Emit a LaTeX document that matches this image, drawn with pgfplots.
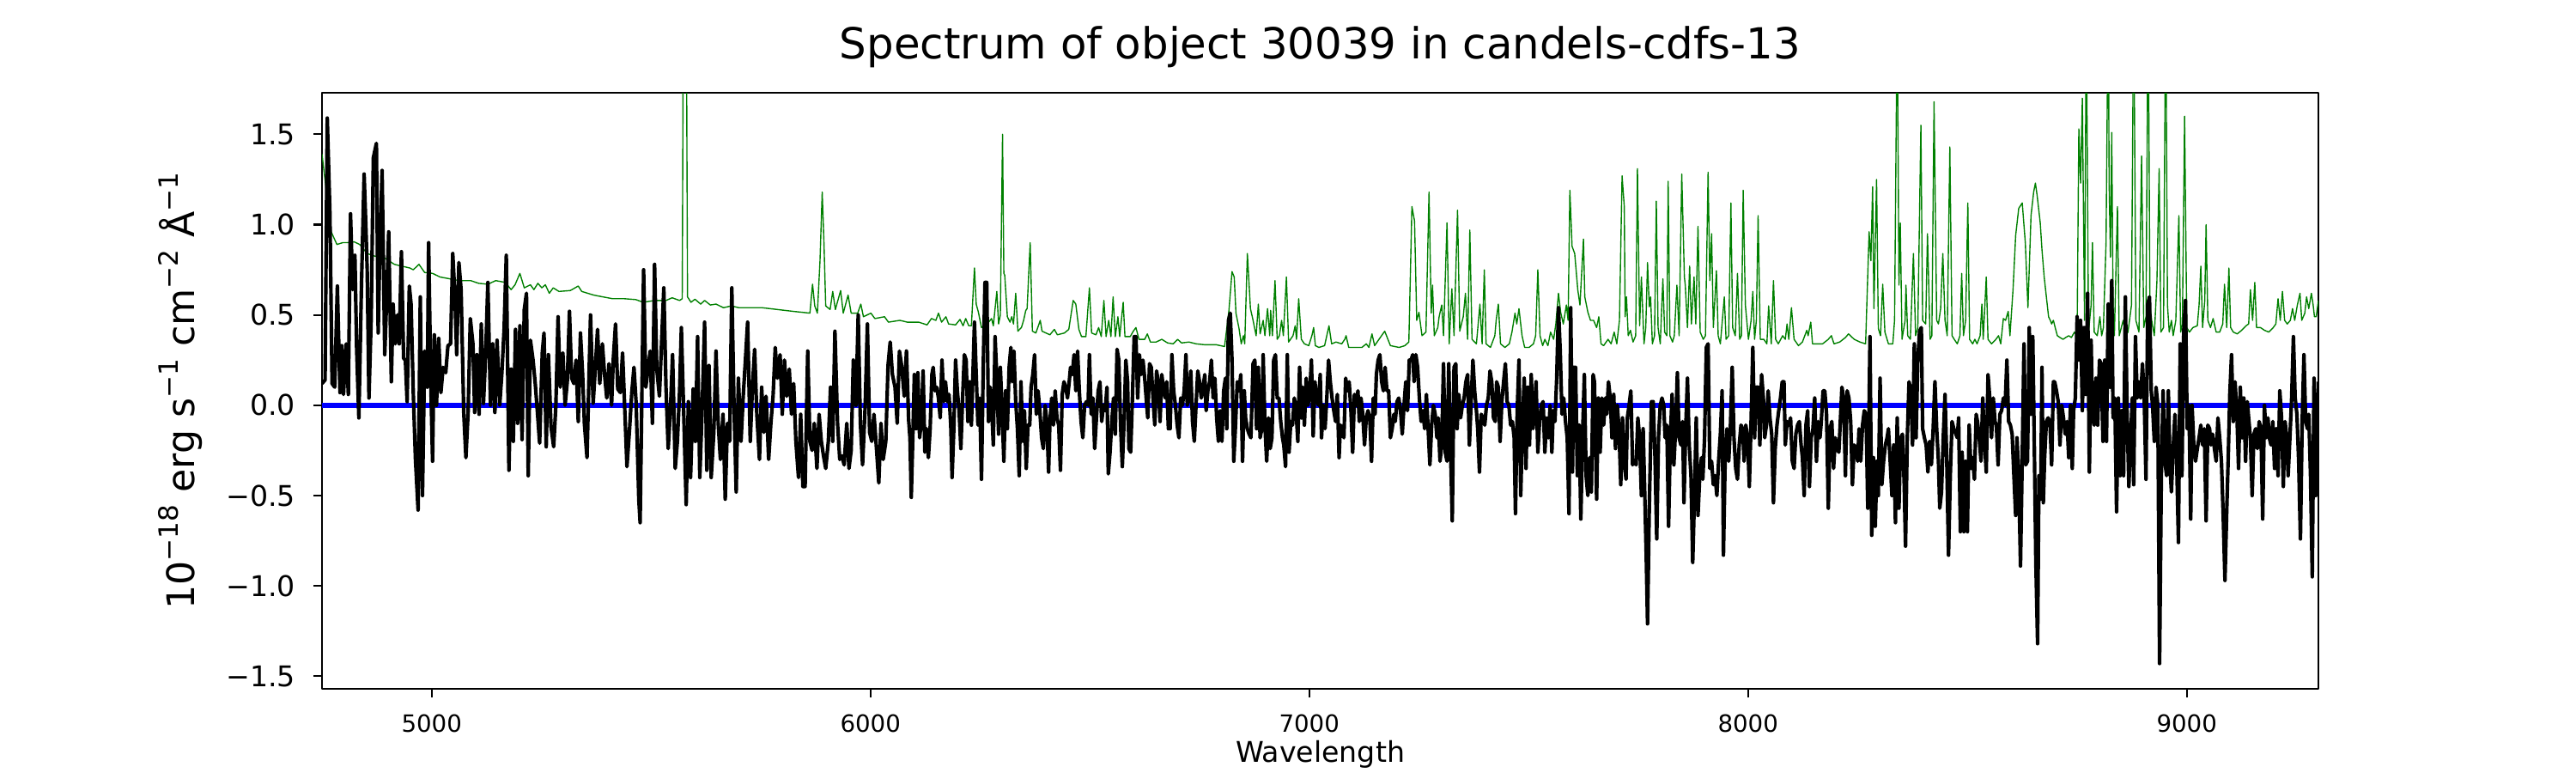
\documentclass[border=0pt]{standalone}
\usepackage{fontspec}
\setmainfont{DejaVu Sans}
\usepackage{pgfplots}
\pgfplotsset{compat=1.18}
\definecolor{mplgreen}{rgb}{0,0.5,0}
\definecolor{mplblue}{rgb}{0,0,1}
\newcommand{\sps}[1]{\raisebox{0.42em}{\fontsize{11.2}{12}\selectfont #1}}
\begin{document}
\begin{tikzpicture}
\path[use as bounding box] (0,0) rectangle (1080bp,324bp);
\begin{axis}[
  at={(135bp,35.28bp)}, anchor=south west,
  width=837bp, height=249.84bp, scale only axis,
  xmin=4750, xmax=9300, ymin=-1.57, ymax=1.73,
  axis line style={line width=0.8bp},
  tick style={line width=0.8bp, black},
  tick align=outside, major tick length=3.5bp,
  xtick pos=left, ytick pos=left,
  xtick={5000,6000,7000,8000,9000},
  xticklabels={5000,6000,7000,8000,9000},
  ytick={-1.5,-1,-0.5,0,0.5,1,1.5},
  yticklabels={−1.5,−1.0,−0.5,0.0,0.5,1.0,1.5},
  xticklabel style={font=\fontsize{10}{12}\selectfont, anchor=base, yshift=-14.5bp},
  yticklabel style={font=\fontsize{12}{14}\selectfont, anchor=east, xshift=-4.2bp},
  title={Spectrum of object 30039 in candels-cdfs-13},
  title style={font=\fontsize{18}{21}\selectfont, at={(axis description cs:0.5,1)}, anchor=base, yshift=8.28bp},
  xlabel={Wavelength},
  xlabel style={font=\fontsize{12}{14}\selectfont, at={(axis description cs:0.5,-0.1225)}, anchor=base},
  ylabel={10\sps{−18} erg s\sps{−1} cm\sps{−2} Å\sps{−1}},
  ylabel style={font=\fontsize{16}{19}\selectfont, at={(axis description cs:-0.0640,0.5)}, anchor=base},
  line join=round,
]
% error / sky spectrum
\addplot[mplgreen, line width=0.5bp] coordinates {
(4750,1.39) (4771,0.96) (4784,0.89) (4797,0.90) (4810,0.90) (4823,0.905) (4836,0.89) (4853,0.84) (4871,0.825) (4893,0.815) (4915,0.78) (4932,0.77) (4950,0.76) (4958,0.75) (4971,0.78) (4984,0.735) (5002,0.73) (5019,0.71) (5041,0.70) (5063,0.69) (5089,0.69) (5107,0.675) (5128,0.67) (5146,0.69) (5168,0.68) (5181,0.64) (5190,0.667) (5201,0.73) (5211,0.65) (5225,0.667) (5233,0.64) (5242,0.675) (5251,0.65) (5259,0.667) (5268,0.62) (5277,0.65) (5290,0.63) (5316,0.635) (5334,0.66) (5342,0.63) (5369,0.61) (5390,0.60) (5412,0.59) (5438,0.59) (5465,0.585) (5482,0.57) (5508,0.58) (5534,0.58) (5548,0.595) (5565,0.58) (5571,0.59) (5574,2.5) (5577,3.2) (5580,2.5) (5583,0.60) (5591,0.57) (5600,0.587) (5613,0.56) (5622,0.58) (5635,0.555) (5648,0.56) (5665,0.54) (5683,0.55) (5700,0.54) (5726,0.54) (5753,0.54) (5788,0.53) (5823,0.52) (5862,0.51) (5868,0.67) (5873,0.55) (5879,0.51) (5885,0.80) (5890,1.18) (5894,0.90) (5898,0.55) (5908,0.53) (5914,0.63) (5920,0.53) (5932,0.635) (5938,0.51) (5949,0.61) (5956,0.51) (5971,0.51) (5978,0.56) (5984,0.49) (6001,0.51) (6010,0.48) (6032,0.49) (6041,0.46) (6067,0.47) (6084,0.46)
(6090,0.46) (6110,0.46) (6129,0.445) (6139,0.48) (6149,0.47) (6155,0.51) (6162,0.46) (6172,0.49) (6178,0.45) (6194,0.445) (6204,0.475) (6211,0.44) (6217,0.48) (6224,0.44) (6230,0.44) (6237,0.76) (6241,0.56) (6246,0.515) (6253,0.43) (6266,0.45) (6276,0.48) (6280,0.44) (6288,0.63) (6292,0.45) (6296,0.50) (6301,1.50) (6304,0.73) (6306,0.72) (6312,0.49) (6318,0.46) (6322,0.49) (6326,0.45) (6331,0.62) (6336,0.41) (6344,0.43) (6349,0.47) (6354,0.525) (6357,0.535) (6364,0.90) (6369,0.41) (6377,0.40) (6387,0.47) (6391,0.41) (6400,0.40) (6409,0.39) (6419,0.42) (6426,0.39) (6442,0.40) (6452,0.42) (6462,0.58) (6468,0.56) (6475,0.42) (6481,0.38) (6491,0.38) (6499,0.65) (6504,0.40) (6514,0.39) (6520,0.43) (6526,0.38) (6532,0.58) (6537,0.38) (6543,0.47) (6548,0.38) (6553,0.60) (6558,0.38) (6564,0.49) (6568,0.38) (6576,0.57) (6580,0.38) (6592,0.38) (6599,0.41) (6605,0.43) (6612,0.365) (6625,0.365) (6631,0.395) (6638,0.35) (6651,0.35) (6664,0.365) (6677,0.345) (6690,0.34) (6700,0.365) (6709,0.345) (6726,0.35) (6742,0.34) (6762,0.335) (6788,0.335) (6807,0.325) (6817,0.525) (6824,0.74) (6829,0.71) (6833,0.51) (6840,0.425) (6845,0.34) (6850,0.385) (6853,0.34) (6859,0.84) (6866,0.535)
(6872,0.47) (6879,0.385) (6884,0.56) (6888,0.395) (6895,0.47) (6899,0.385) (6905,0.535) (6910,0.385) (6912,0.525) (6916,0.385) (6922,0.69) (6927,0.365) (6932,0.385) (6937,0.47) (6941,0.385) (6948,0.71) (6953,0.35) (6963,0.385) (6968,0.44) (6971,0.365) (6976,0.59) (6982,0.365) (6989,0.34) (6999,0.33) (7006,0.385) (7010,0.43) (7014,0.33) (7022,0.32) (7035,0.33) (7045,0.44) (7051,0.34) (7061,0.35) (7074,0.34) (7081,0.365) (7084,0.385) (7090,0.32) (7107,0.32) (7120,0.32) (7130,0.34) (7136,0.32) (7143,0.395) (7149,0.33) (7159,0.365) (7172,0.41) (7185,0.33) (7205,0.32) (7218,0.33) (7227,0.35) (7234,1.10) (7240,1.02) (7245,0.47) (7250,0.515) (7257,0.385) (7266,0.405) (7273,1.18) (7278,0.51) (7281,0.665) (7285,0.385) (7293,0.43) (7296,0.49) (7302,0.555) (7306,0.385) (7314,1.01) (7319,0.34) (7325,0.645) (7330,0.385) (7338,1.08) (7343,0.41) (7351,0.49) (7356,0.62) (7361,0.365) (7366,0.97) (7371,0.365) (7381,0.34) (7389,0.56) (7394,0.34) (7399,0.75) (7403,0.34) (7413,0.32) (7423,0.385) (7426,0.47) (7431,0.56) (7436,0.34) (7446,0.32) (7456,0.34) (7462,0.405) (7469,0.51) (7473,0.45) (7478,0.535) (7485,0.385) (7491,0.32) (7501,0.32) (7511,0.34) (7516,0.385) (7521,0.75) (7526,0.385) (7532,0.33) (7537,0.365) (7544,0.33) (7550,0.405) (7557,0.365) (7562,0.45) (7568,0.62) (7573,0.515) (7579,0.45) (7586,0.555) (7590,0.47) (7594,1.19) (7599,0.88) (7605,0.84) (7612,0.64) (7617,0.555) (7625,0.92) (7628,0.60) (7635,0.515) (7641,0.47) (7648,0.47)
(7655,0.43) (7660,0.49) (7665,0.34) (7671,0.33) (7681,0.365) (7688,0.34) (7695,0.405) (7701,0.34) (7707,0.47) (7713,1.27) (7718,1.10) (7720,0.49) (7723,0.60) (7727,0.385) (7732,0.415) (7738,0.35) (7744,0.385) (7748,1.31) (7753,0.44) (7757,0.71) (7763,0.34) (7767,0.43) (7771,0.79) (7775,0.545) (7778,0.60) (7782,0.34) (7787,0.385) (7791,1.13) (7795,0.43) (7800,0.34) (7806,0.70) (7810,0.405) (7815,0.385) (7818,1.24) (7822,0.385) (7828,0.35) (7832,0.385) (7838,0.665) (7843,0.385) (7849,1.28) (7855,0.71) (7857,0.665) (7862,0.43) (7867,0.77) (7871,0.45) (7877,0.71) (7881,0.45) (7886,0.99) (7891,0.405) (7898,0.365) (7903,0.385) (7909,1.29) (7913,0.69) (7917,0.95) (7921,0.43) (7928,0.745) (7932,0.385) (7937,0.34) (7946,0.60) (7950,0.365) (7956,0.385) (7961,1.12) (7965,0.43) (7971,0.385) (7976,0.73) (7981,0.365) (7985,0.385) (7989,1.19) (7994,0.555) (8001,0.365) (8007,0.47) (8011,0.63) (8015,0.365) (8019,0.47) (8023,1.05) (8028,0.365) (8036,0.365) (8043,0.34) (8047,0.55) (8053,0.34) (8058,0.69) (8063,0.365) (8069,0.34) (8079,0.385) (8085,0.365) (8089,0.45) (8093,0.365) (8099,0.54) (8105,0.365) (8115,0.33) (8124,0.35) (8134,0.415) (8137,0.385) (8143,0.46) (8147,0.34) (8157,0.34) (8170,0.34) (8183,0.365) (8190,0.385) (8196,0.34) (8209,0.35) (8222,0.375) (8229,0.395) (8242,0.365) (8255,0.35) (8268,0.34) (8276,0.96) (8280,0.80) (8284,1.21) (8287,0.535) (8293,1.25) (8297,0.425) (8302,0.385) (8307,0.67) (8312,0.405) (8320,0.34) (8330,0.34) (8334,0.47) (8340,2.2) (8344,0.665) (8347,1.01) (8351,0.365) (8358,0.47) (8360,0.665) (8364,0.385) (8370,0.365) (8377,0.84) (8382,0.385) (8387,0.43) (8394,1.55) (8398,0.47) (8405,0.45) (8409,0.95) (8415,0.365) (8419,0.385) (8424,1.68) (8430,0.47) (8434,0.45) (8439,0.535) (8444,0.84) (8449,0.47) (8454,0.385) (8460,1.43) (8465,0.385) (8470,0.365)
(8477,0.34) (8483,0.385) (8487,0.73) (8491,0.385) (8496,0.47) (8501,1.12) (8505,0.365) (8512,0.34) (8517,0.365) (8522,0.34) (8529,0.385) (8533,0.56) (8536,0.365) (8543,0.71) (8547,0.365) (8555,0.34) (8565,0.365) (8571,0.385) (8576,0.34) (8582,0.48) (8587,0.47) (8593,0.52) (8597,0.385) (8604,0.64) (8610,0.94) (8617,1.09) (8625,1.12) (8632,0.90) (8638,0.54) (8645,1.05) (8651,1.18) (8655,1.23) (8659,1.16) (8666,1.01) (8670,0.86) (8675,0.71) (8680,0.60) (8685,0.49) (8689,0.47) (8692,0.45) (8696,0.47) (8699,0.44) (8705,0.385) (8711,0.375) (8718,0.365) (8724,0.375) (8731,0.385) (8737,0.375) (8744,0.405) (8750,0.385) (8754,1.53) (8758,1.23) (8762,1.70) (8767,0.47) (8771,2.2) (8776,0.405) (8782,0.555) (8785,0.90) (8789,0.405) (8796,0.385) (8802,0.49) (8806,0.385) (8810,0.43) (8816,0.90) (8821,2.3) (8823,1.23) (8826,0.82) (8829,1.51) (8832,0.555) (8835,0.385) (8842,1.10) (8846,0.385) (8855,0.47) (8861,0.385) (8866,0.405) (8874,0.555) (8879,2.3) (8884,0.47) (8891,0.405) (8897,1.38) (8902,0.43) (8907,0.49) (8912,2.3) (8916,0.555) (8920,0.47) (8926,0.385) (8932,0.69) (8937,1.31) (8941,0.405) (8947,0.43) (8952,2.3) (8956,0.555) (8960,0.405) (8965,0.47) (8969,0.385) (8975,0.47) (8982,1.05) (8986,0.405) (8990,0.45) (8995,1.60) (9000,0.43) (9006,0.405) (9014,0.43) (9024,0.44) (9028,0.555) (9032,0.77) (9036,0.43) (9041,0.58) (9044,1.00) (9048,0.47) (9054,0.43) (9060,0.48) (9067,0.405) (9075,0.405) (9082,0.45) (9086,0.67) (9091,0.43) (9096,0.76) (9100,0.43) (9106,0.405) (9115,0.395) (9125,0.415) (9135,0.44) (9141,0.45) (9145,0.64) (9150,0.47) (9155,0.68) (9159,0.43) (9168,0.43) (9177,0.415) (9187,0.405) (9197,0.43) (9203,0.45) (9208,0.59) (9213,0.47) (9218,0.63) (9223,0.47) (9229,0.45) (9236,0.47) (9241,0.535) (9246,0.47) (9252,0.555) (9258,0.62) (9262,0.47) (9269,0.51) (9273,0.60) (9278,0.535) (9284,0.62) (9288,0.555) (9291,0.49) (9295,0.49) (9300,0.58)
};
% zero line
\addplot[mplblue, line width=2bp] coordinates {(4750,0) (9300,0)};
% flux
\addplot[black, line width=1.5bp] coordinates {
(4750,0.12) (4757,0.14) (4762,1.59) (4768,1.07) (4773,0.12) (4779,0.10) (4785,0.66) (4791,0.07) (4795,0.33) (4799,0.06) (4805,0.34) (4810,0.06) (4815,1.06) (4820,0.64) (4825,0.83) (4829,0.31) (4834,-0.07) (4840,0.67) (4846,1.28) (4850,0.99) (4853,0.75) (4857,0.04) (4862,0.47) (4867,1.37) (4874,1.45) (4878,0.40) (4882,0.88) (4887,1.30) (4893,0.28) (4897,0.56) (4902,0.96) (4908,0.13) (4912,0.56) (4917,0.34) (4922,0.50) (4926,0.34) (4931,0.85) (4936,0.26) (4940,0.25) (4944,0.02) (4949,0.66) (4953,0.56) (4958,0.07) (4963,-0.30) (4969,-0.58) (4974,0.60) (4979,-0.50) (4984,0.30) (4990,0.10) (4993,0.90) (4998,0.12) (5002,-0.31) (5006,0.39) (5011,0.00) (5016,0.37) (5021,0.07) (5026,0.21) (5032,0.18) (5037,0.33) (5043,0.34) (5048,0.84) (5053,0.60) (5057,0.28) (5062,0.79) (5067,0.64) (5073,-0.04) (5078,-0.29) (5083,-0.04) (5088,0.48) (5094,0.34) (5098,-0.04) (5103,0.28) (5108,-0.05) (5113,0.45) (5118,0.01) (5123,0.28) (5128,0.68) (5134,0.00) (5139,0.34) (5144,-0.04) (5149,0.36) (5155,0.00) (5160,0.18) (5165,0.42) (5170,0.83) (5176,-0.36) (5181,0.20) (5186,-0.20) (5191,0.42) (5196,-0.10) (5201,0.44) (5206,-0.19) (5211,0.53) (5216,0.62) (5220,-0.39) (5225,0.36) (5231,0.25) (5236,0.12) (5241,-0.04) (5246,-0.21) (5252,0.29) (5256,0.40) (5261,-0.23) (5266,0.28) (5272,-0.12) (5278,-0.23) (5283,0.00) (5288,0.49) (5293,0.10) (5299,0.29) (5304,0.00) (5309,0.13) (5314,0.52) (5319,0.15) (5324,0.12) (5329,0.25) (5334,-0.09) (5339,0.40) (5344,0.17) (5348,-0.10) (5354,-0.29) (5359,0.21) (5362,0.50) (5368,0.01) (5373,0.21) (5378,0.42) (5383,0.12) (5389,0.34) (5394,0.17) (5399,0.04) (5404,0.23) (5410,0.00) (5414,0.26) (5419,0.45) (5424,0.09) (5430,0.07) (5435,0.29) (5440,-0.02) (5445,-0.34) (5451,-0.13) (5456,0.07) (5461,0.21) (5466,0.01) (5472,-0.52) (5475,-0.65) (5479,0.05) (5483,0.75) (5488,0.10) (5493,0.20) (5498,0.30) (5503,-0.10) (5508,0.78) (5513,0.20) (5519,0.05) (5524,0.35) (5529,0.65) (5534,0.10) (5539,-0.24) (5544,-0.03) (5549,0.28) (5555,-0.35) (5560,-0.20) (5565,0.08) (5569,0.43) (5575,-0.10) (5580,-0.55) (5585,0.02) (5590,-0.40) (5596,0.09) (5601,-0.20) (5606,0.38) (5611,-0.40) (5616,-0.05) (5622,0.46) (5627,-0.36) (5632,0.22) (5637,-0.40) (5643,-0.15) (5648,0.30) (5653,-0.10) (5658,-0.30) (5664,-0.05) (5669,-0.52) (5674,-0.10) (5679,-0.20) (5684,0.65) (5689,0.00) (5694,-0.48) (5699,0.15) (5705,-0.20) (5710,0.05) (5715,0.25) (5720,0.46) (5726,-0.20) (5731,0.10) (5736,0.31) (5741,-0.05) (5747,-0.30) (5752,0.10) (5757,-0.15) (5762,0.05) (5768,-0.30) (5773,-0.10) (5778,0.05) (5783,0.32) (5788,0.15) (5794,0.28) (5799,-0.05) (5804,0.25) (5809,0.05) (5815,0.20) (5820,-0.05) (5825,0.12) (5830,-0.20) (5836,-0.40) (5841,-0.05) (5846,-0.45) (5851,-0.45) (5857,0.30) (5862,-0.20) (5867,-0.25) (5872,-0.10) (5878,-0.35) (5883,-0.05) (5888,-0.20) (5893,-0.28) (5898,-0.35) (5904,-0.20) (5909,0.10) (5914,-0.20) (5919,0.41) (5925,-0.10) (5930,-0.30) (5935,-0.28) (5940,-0.33) (5946,-0.10) (5951,-0.35) (5956,-0.25) (5961,0.25) (5967,0.00) (5972,0.50) (5977,-0.10) (5982,-0.33) (5988,0.00) (5993,0.45) (5998,-0.15) (6003,-0.20) (6008,-0.05) (6014,-0.25) (6019,-0.43) (6024,-0.10) (6029,-0.30) (6035,-0.20) (6040,0.22) (6045,0.35) (6050,0.17) (6056,0.10) (6061,-0.10) (6066,0.30) (6071,0.22) (6077,0.05) (6082,0.30) (6087,-0.08)
(6090,-0.18) (6093,-0.51) (6097,-0.13) (6100,0.17) (6104,-0.13) (6108,0.18) (6112,-0.18) (6116,-0.09) (6120,0.19) (6124,-0.26) (6128,-0.13) (6132,-0.29) (6136,-0.13) (6140,0.17) (6143,0.21) (6147,0.08) (6151,0.10) (6155,0.04) (6159,-0.07) (6163,0.25) (6167,0.02) (6171,0.13) (6175,0.02) (6179,0.06) (6183,-0.11) (6186,-0.40) (6190,-0.13) (6194,0.25) (6198,0.08) (6202,-0.03) (6206,-0.24) (6210,0.04) (6214,0.28) (6218,0.25) (6222,-0.09) (6226,0.13) (6230,-0.11) (6233,0.13) (6237,0.46) (6241,0.17) (6245,-0.11) (6249,0.04) (6253,-0.41) (6257,0.21) (6261,0.68) (6265,0.68) (6269,-0.09) (6273,0.10) (6276,0) (6280,-0.22) (6284,0.38) (6288,0.15) (6292,-0.16) (6296,0.21) (6300,-0.03) (6304,-0.31) (6308,0.08) (6312,-0.13) (6316,0.21) (6320,0.32) (6323,0.13) (6327,0.30) (6331,0.02) (6335,-0.13) (6339,-0.39) (6343,0.13) (6347,-0.20) (6351,-0.03) (6355,-0.35) (6359,-0.11) (6363,-0.11) (6366,0.10) (6370,0.17) (6374,0.28) (6378,-0.05) (6382,0.08) (6386,-0.03) (6390,-0.18) (6394,-0.24) (6398,0) (6402,-0.09) (6406,-0.37) (6409,-0.09) (6413,0.04) (6417,-0.11) (6421,0.08) (6425,-0.07) (6429,-0.11) (6433,-0.36) (6437,0.06) (6441,0.13) (6445,0.10) (6449,0.04) (6453,0.13) (6456,0.21) (6460,0.17) (6464,0.28) (6468,0.08) (6472,0.30) (6476,0.08) (6480,-0.09) (6484,-0.18) (6488,0) (6492,0.02) (6496,0) (6499,0.28) (6503,-0.05) (6507,0.04) (6511,-0.24) (6515,-0.07) (6519,0.08) (6523,0.13) (6527,-0.09) (6531,0) (6535,-0.03) (6539,0.10) (6542,-0.38) (6546,-0.26) (6550,-0.09) (6554,0.04) (6558,-0.16) (6562,0.31) (6566,0.25) (6570,-0.11) (6574,-0.34) (6578,-0.09) (6582,0.25) (6586,0.13) (6589,-0.24) (6593,-0.26) (6597,0.04) (6601,0.38) (6605,0.38) (6609,0.04) (6613,0.28) (6617,0.17) (6621,0.25) (6625,0.15) (6629,0.02) (6632,-0.07) (6636,0.23) (6640,0.21) (6644,0.04) (6648,-0.11) (6652,0.19) (6656,0.13) (6660,-0.09) (6664,0.17) (6668,0.08) (6672,0.04) (6675,0.13) (6679,-0.13) (6683,-0.13) (6687,0.28) (6691,0.08) (6695,0) (6699,-0.11) (6703,-0.18) (6707,0.04) (6711,0) (6715,0.08) (6719,0.28) (6722,0) (6726,0.04) (6730,0.19) (6734,-0.09) (6738,-0.20) (6742,0) (6746,0.19) (6750,0.13) (6754,0.04) (6758,0.10) (6762,0.17) (6765,-0.03) (6769,0.08) (6773,0.13) (6777,0.25) (6781,0.04) (6785,0.15) (6789,-0.07) (6793,-0.20) (6797,-0.03) (6801,-0.20) (6805,0.08) (6809,0.15) (6812,-0.13) (6816,0.47) (6820,0.51) (6824,0.25) (6828,-0.31) (6832,-0.11) (6836,0.13) (6840,0.08) (6844,0.17) (6848,-0.31) (6852,0.08) (6855,-0.07) (6859,-0.13) (6863,-0.16) (6867,-0.18)
(6872,0.23) (6876,0.25) (6880,-0.13) (6884,0.21) (6888,-0.18) (6892,-0.13) (6895,0.28) (6899,-0.11) (6903,-0.31) (6907,-0.07) (6911,-0.24) (6915,-0.18) (6919,0.25) (6923,0.28) (6927,0.04) (6931,0.04) (6935,-0.09) (6939,-0.18) (6942,-0.22) (6946,-0.34) (6950,0.28) (6954,-0.26) (6958,-0.09) (6962,-0.11) (6966,0.04) (6970,-0.03) (6974,-0.20) (6978,0.21) (6982,-0.07) (6985,0.10) (6989,-0.11) (6993,0.15) (6997,0) (7001,0.06) (7005,0.25) (7009,-0.17) (7013,0.13) (7017,0.04) (7021,0) (7025,0.17) (7028,-0.18) (7032,0) (7036,-0.13) (7040,0.04) (7044,0.25) (7048,0.13) (7052,0.04) (7056,-0.03) (7060,-0.09) (7064,0.06) (7068,-0.29) (7071,-0.11) (7075,-0.13) (7079,-0.18) (7083,0.15) (7087,0.08) (7091,0.13) (7095,-0.03) (7099,-0.26) (7103,0.06) (7107,0) (7111,0.08) (7114,-0.09) (7118,0.04) (7122,-0.05) (7126,-0.22) (7130,-0.07) (7134,-0.03) (7138,-0.07) (7142,-0.31) (7146,0.04) (7150,-0.05) (7153,0.17) (7157,0.25) (7161,0.28) (7165,0.13) (7169,0.08) (7173,0.21) (7177,0.08) (7181,0.08) (7185,-0.18) (7189,-0.13) (7193,-0.05) (7196,-0.09) (7200,0.02) (7204,0.04) (7208,-0.03) (7212,-0.16) (7216,0) (7220,0.13) (7224,-0.03) (7228,0.25) (7232,0.25) (7236,0.28) (7239,0.13) (7243,0.28) (7247,0.21) (7251,0.04) (7255,-0.09) (7259,-0.03) (7263,-0.13) (7267,0.06) (7271,-0.13) (7275,-0.33) (7279,-0.11) (7283,0) (7287,-0.05) (7291,-0.18) (7294,-0.07) (7298,-0.31) (7302,-0.22) (7306,0.23) (7310,-0.26) (7314,-0.31) (7318,0.23) (7322,-0.24) (7326,-0.64) (7330,0.21) (7334,0.23) (7337,-0.13) (7341,0.06) (7345,-0.07) (7349,0) (7353,0.04) (7357,0.13) (7361,0.17) (7365,-0.22) (7369,0.02) (7373,0.25) (7377,0.08) (7381,-0.03) (7384,-0.13) (7388,-0.37) (7392,-0.05) (7396,-0.07) (7400,-0.11) (7404,0) (7408,0.04) (7412,0.19) (7416,0.13) (7420,-0.07) (7424,-0.09) (7427,0.13) (7431,0.10) (7435,-0.20) (7439,0.02) (7443,0.13) (7447,0.23) (7451,0.02) (7455,0) (7459,-0.11) (7463,-0.09) (7467,-0.18) (7470,-0.60) (7474,-0.03) (7478,0.25) (7482,-0.50) (7486,-0.11) (7490,0.15) (7494,-0.35) (7498,0.10) (7502,-0.22) (7506,0.17) (7510,-0.13) (7513,-0.05) (7517,0.13) (7521,-0.26) (7525,-0.09) (7529,0) (7533,0.02) (7537,-0.26) (7541,-0.07) (7545,-0.18) (7549,0) (7553,-0.26) (7556,-0.03) (7560,-0.09) (7564,0.15) (7568,0.54) (7572,0.30) (7576,-0.05) (7580,0.04) (7584,-0.09) (7588,-0.18) (7592,-0.60) (7596,0.54) (7600,-0.37) (7603,0.21) (7607,0.21) (7611,-0.39) (7615,-0.11) (7619,-0.63) (7623,-0.16) (7627,0.17) (7631,-0.39) (7635,-0.50) (7639,-0.29) (7643,-0.48) (7647,0.17) (7650,0.13)
(7655,-0.52) (7659,0.04) (7663,-0.26) (7667,0.04) (7671,-0.11) (7675,0.04) (7678,-0.05) (7682,0.13) (7686,0.04) (7690,-0.18) (7694,0.06) (7698,-0.24) (7702,0) (7706,-0.13) (7710,-0.44) (7714,-0.07) (7718,-0.31) (7722,-0.41) (7725,-0.07) (7729,0) (7733,0.08) (7737,-0.33) (7741,-0.31) (7745,-0.33) (7749,-0.07) (7753,-0.18) (7757,-0.50) (7761,-0.13) (7765,-0.52) (7768,-0.83) (7771,-1.21) (7775,-0.57) (7780,0.02) (7784,0.02) (7788,-0.29) (7792,-0.74) (7796,-0.18) (7800,0) (7804,0.04) (7808,0) (7811,-0.18) (7815,-0.11) (7819,-0.67) (7823,-0.18) (7827,0.06) (7831,-0.33) (7835,-0.13) (7839,0.18) (7843,-0.18) (7847,-0.22) (7851,-0.09) (7854,-0.54) (7858,-0.13) (7862,0.15) (7866,-0.22) (7870,-0.39) (7874,-0.87) (7878,-0.50) (7882,-0.07) (7886,-0.61) (7890,-0.39) (7894,-0.29) (7897,-0.41) (7901,-0.18) (7905,0.32) (7909,0.34) (7913,-0.35) (7917,-0.31) (7921,-0.44) (7925,-0.39) (7929,-0.50) (7933,-0.31) (7937,-0.16) (7941,0.08) (7944,-0.83) (7948,-0.29) (7952,-0.13) (7956,-0.31) (7960,-0.11) (7964,0.21) (7968,-0.18) (7972,-0.35) (7976,-0.41) (7980,-0.22) (7984,-0.11) (7988,-0.13) (7991,-0.31) (7995,-0.11) (7999,-0.18) (8003,-0.45) (8007,-0.09) (8011,0.32) (8015,-0.18) (8019,0.10) (8023,0.10) (8027,-0.22) (8031,0.17) (8035,0.04) (8038,-0.18) (8042,-0.11) (8046,0.08) (8050,-0.07) (8054,-0.16) (8058,-0.54) (8062,-0.24) (8066,-0.11) (8070,-0.03) (8074,0.04) (8078,0.13) (8082,0.13) (8085,-0.22) (8089,-0.09) (8093,-0.11) (8097,-0.07) (8101,-0.31) (8105,-0.35) (8109,-0.16) (8113,-0.11) (8117,-0.09) (8121,-0.22) (8124,-0.29) (8128,-0.50) (8132,-0.11) (8136,-0.03) (8140,-0.45) (8144,-0.18) (8148,-0.13) (8152,0.04) (8156,-0.31) (8160,-0.09) (8164,-0.18) (8167,-0.09) (8171,0.08) (8175,0.08) (8179,-0.05) (8183,-0.57) (8187,-0.13) (8191,-0.09) (8195,-0.35) (8199,-0.18) (8203,-0.24) (8207,-0.26) (8210,-0.11) (8214,0.10) (8218,0.04) (8222,-0.39) (8226,0.08) (8230,0.04) (8234,-0.09) (8238,-0.44) (8242,-0.22) (8246,-0.24) (8250,-0.31) (8253,-0.13) (8257,-0.31) (8261,-0.11) (8265,-0.03) (8269,-0.05) (8273,-0.57) (8278,0.38) (8282,-0.72) (8286,-0.29) (8290,-0.67) (8294,-0.31) (8297,-0.50) (8301,0.15) (8305,-0.44) (8309,-0.31) (8313,-0.22) (8317,-0.18) (8320,-0.13) (8324,-0.31) (8328,-0.50) (8332,-0.22) (8336,-0.65) (8340,-0.07) (8344,-0.57) (8348,-0.18) (8352,-0.16) (8356,-0.44) (8359,-0.78) (8363,-0.18) (8367,0.13) (8371,0.08) (8375,-0.22) (8379,0.34) (8383,-0.18) (8387,0.25) (8391,0.41) (8395,0.43) (8398,-0.13) (8402,-0.18) (8406,-0.22) (8410,-0.37) (8414,-0.20) (8418,-0.33) (8422,-0.13) (8426,0.13) (8430,-0.13) (8434,-0.31) (8437,-0.57) (8441,-0.48) (8445,-0.18) (8449,0.06) (8453,-0.31) (8457,-0.83) (8461,-0.39) (8465,-0.09) (8469,-0.13)
(8477,-0.18) (8480,-0.07) (8484,-0.70) (8488,-0.26) (8492,-0.70) (8496,-0.31) (8500,-0.70) (8504,-0.11) (8508,-0.35) (8512,-0.29) (8516,-0.41) (8520,-0.05) (8523,-0.09) (8527,-0.18) (8531,-0.31) (8535,0.04) (8539,-0.20) (8543,-0.37) (8547,0.17) (8551,0.04) (8555,-0.18) (8559,0.04) (8563,-0.09) (8566,-0.11) (8570,-0.33) (8574,-0.05) (8578,-0.03) (8582,0.04) (8586,0) (8590,0.25) (8594,-0.09) (8598,-0.11) (8602,-0.16) (8606,-0.39) (8610,-0.61) (8613,-0.18) (8617,-0.39) (8621,-0.89) (8625,-0.29) (8629,0.34) (8633,-0.33) (8637,-0.31) (8641,0.43) (8645,-0.05) (8649,0.38) (8653,-0.31) (8656,-0.87) (8660,-1.32) (8663,-0.39) (8667,-0.52) (8670,0.21) (8673,-0.54) (8676,-0.29) (8680,-0.09) (8684,-0.07) (8688,-0.09) (8692,-0.33) (8696,0.13) (8699,0.13) (8703,0.08) (8707,0.02) (8711,-0.22) (8715,0) (8719,-0.07) (8723,-0.16) (8727,-0.09) (8731,-0.29) (8735,0) (8739,-0.35) (8742,-0.03) (8746,0.04) (8750,0.49) (8754,0.25) (8758,0.47) (8762,-0.03) (8766,0.43) (8770,0.06) (8774,0.62) (8778,-0.37) (8782,0.36) (8785,-0.05) (8789,-0.11) (8793,0.15) (8797,-0.11) (8801,0.25) (8805,0.23) (8809,-0.20) (8813,0.25) (8817,-0.20) (8821,0.56) (8825,0.10) (8829,0.69) (8832,-0.07) (8836,0.04) (8840,-0.59) (8844,0.04) (8848,-0.39) (8852,-0.03) (8856,-0.39) (8860,0.60) (8864,-0.05) (8868,-0.45) (8872,-0.18) (8876,0.04) (8879,-0.44) (8883,0.38) (8887,0.04) (8891,0.13) (8895,0.04) (8899,0.23) (8903,0.04) (8907,-0.41) (8911,0.56) (8915,0.60) (8919,0.08) (8922,0) (8926,-0.20) (8930,0.10) (8934,0) (8938,-1.43) (8942,-0.39) (8946,0.08) (8950,-0.31) (8954,-0.39) (8958,0.08) (8962,-0.35) (8965,-0.48) (8969,-0.24) (8973,-0.05) (8977,-0.31) (8981,-0.76) (8985,0.34) (8989,-0.39) (8993,0.41) (8997,0.58) (9001,-0.13) (9005,0) (9009,-0.63) (9012,0) (9016,-0.22) (9020,-0.31) (9024,-0.24) (9028,-0.18) (9032,-0.11) (9036,-0.22) (9040,-0.13) (9044,-0.64) (9048,-0.11) (9052,-0.13) (9055,-0.22) (9059,-0.16) (9063,-0.24) (9067,-0.31) (9071,-0.07) (9075,-0.18) (9079,-0.31) (9083,-0.61) (9087,-0.97) (9091,-0.59) (9095,-0.24) (9098,0.06) (9102,0.28) (9106,-0.09) (9110,0.13) (9114,-0.03) (9118,-0.35) (9122,0.10) (9126,-0.18) (9130,0.04) (9134,-0.31) (9138,0.02) (9141,-0.07) (9145,-0.18) (9149,-0.50) (9153,-0.16) (9157,-0.13) (9161,-0.24) (9165,-0.09) (9169,-0.13) (9173,-0.63) (9177,0) (9181,-0.18) (9185,-0.07) (9188,-0.18) (9192,-0.22) (9196,-0.09) (9200,-0.35) (9204,-0.13) (9208,-0.39) (9212,0.08) (9216,-0.07) (9220,-0.45) (9224,-0.09) (9228,-0.18) (9231,-0.39) (9235,-0.18) (9239,0.04) (9243,0.38) (9247,0.04) (9251,-0.05) (9255,-0.31) (9259,-0.74) (9263,-0.09) (9267,0.28) (9271,-0.09) (9275,-0.13) (9278,-0.05) (9282,-0.39) (9286,-0.95) (9290,0.15) (9294,-0.50) (9300,0.13)
};
\end{axis}
\end{tikzpicture}
\end{document}
